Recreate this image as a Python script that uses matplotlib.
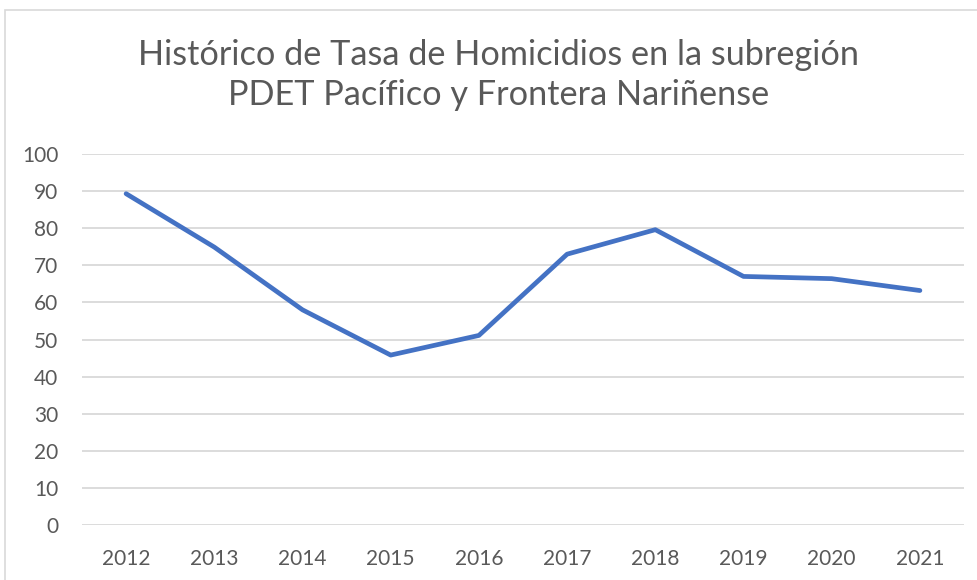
import matplotlib.pyplot as plt
from matplotlib.patches import Rectangle

# Datos
YEARS = ["2012", "2013", "2014", "2015", "2016", "2017", "2018", "2019", "2020", "2021"]
TASA = [89.3, 74.9, 58.0, 45.8, 51.1, 73.0, 79.6, 67.0, 66.4, 63.2]
Y_TICKS = [0, 10, 20, 30, 40, 50, 60, 70, 80, 90, 100]
TITLE = "Histórico de Tasa de Homicidios en la subregión\nPDET Pacífico y Frontera Nariñense"

W, H = 978, 580
plt.rcParams['font.family'] = ['Lato', 'DejaVu Sans']
TEXT = "#595959"

fig = plt.figure(figsize=(W / 100, H / 100), dpi=100)
fig.patch.set_facecolor("white")

# borde del área del gráfico (sale por la derecha y por abajo)
fig.patches.append(Rectangle((5 / W, -0.1), 1.1, 1 - 10 / H + 0.1, transform=fig.transFigure,
                             fill=False, edgecolor="#D9D9D9", linewidth=1.2))

ax = fig.add_axes([82 / W, 1 - 525 / H, (964 - 82) / W, (525 - 154) / H])
x = list(range(len(YEARS)))
ax.plot(x, TASA, color="#4472C4", linewidth=3.4, solid_capstyle="round", solid_joinstyle="round")

ax.set_xlim(-0.5, len(YEARS) - 0.5)
ax.set_ylim(0, 100)
ax.set_yticks(Y_TICKS)
ax.set_xticks(x)
ax.set_xticklabels(YEARS)
ax.grid(axis="y", color="#D9D9D9", linewidth=1.3)
ax.set_axisbelow(True)
for s in ax.spines.values():
    s.set_visible(False)
ax.tick_params(length=0, labelsize=15, colors=TEXT)
ax.tick_params(axis="y", pad=17)
ax.tick_params(axis="x", pad=17)

fig.text(499 / W, 1 - 75 / H, TITLE, ha="center", va="center", fontsize=24.7,
         color=TEXT, linespacing=1.3)

fig.savefig("out.png", dpi=100)
